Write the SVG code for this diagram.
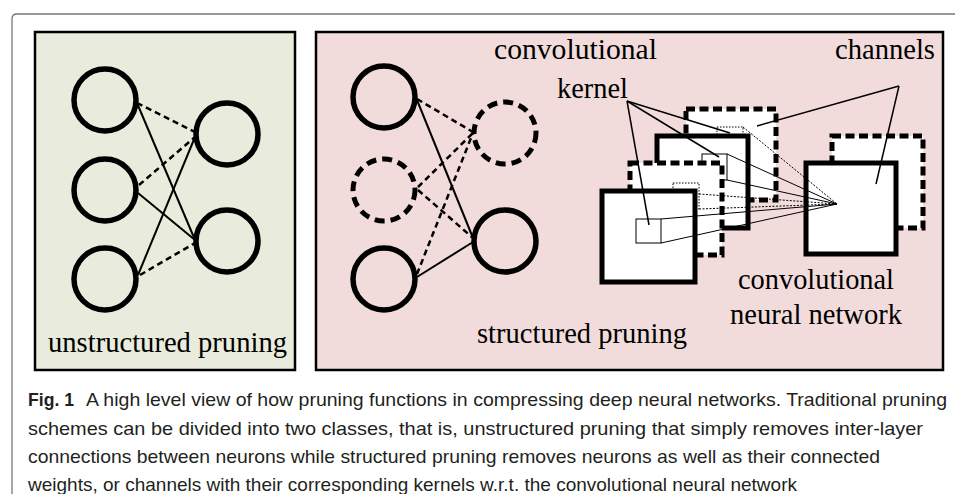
<svg xmlns="http://www.w3.org/2000/svg" width="955" height="494" viewBox="0 0 955 494">
<style>
.panel{stroke:#000;stroke-width:2.5}
.neuron{fill:none;stroke:#000;stroke-width:5.5}
.pruned{fill:none;stroke:#000;stroke-width:5;stroke-dasharray:10,6}
.w{stroke:#000;stroke-width:2;fill:none}
.wd{stroke:#000;stroke-width:2.5;fill:none;stroke-dasharray:6,4}
.lbl{font-family:"Liberation Serif","Times New Roman",serif;font-size:28.5px;fill:#000}
.ch{fill:#fff;stroke:#000;stroke-width:5}
.chd{fill:#fff;stroke:#000;stroke-width:5;stroke-dasharray:9,4.5}
.k{fill:#fff;stroke:#000;stroke-width:1}
.kd{fill:#fff;stroke:#000;stroke-width:1;stroke-dasharray:1.5,1.5}
.c{stroke:#000;stroke-width:1.5;fill:none}
.t{stroke:#000;stroke-width:1;fill:none}
.td{stroke:#000;stroke-width:1;fill:none;stroke-dasharray:2,1.5}
.cap{font-family:"Liberation Sans",Arial,sans-serif;font-size:19px;fill:#231f20}
</style>
<path d="M12 494 V19 Q12 14 17 14 H955" fill="none" stroke="#777" stroke-width="1.3"/>
<g id="panel-unstructured">
<rect class="panel" x="35" y="32" width="260" height="338" fill="#e9ecdc"/>
<text class="lbl" x="48" y="352" textLength="239" lengthAdjust="spacingAndGlyphs">unstructured pruning</text>
</g>
<g id="panel-structured">
<rect class="panel" x="316" y="32" width="627" height="338" fill="#f2dcdb"/>
<text class="lbl" x="477" y="343" textLength="210" lengthAdjust="spacingAndGlyphs">structured pruning</text>
</g>
<g id="connectors">
<line class="wd" x1="137" y1="103" x2="195" y2="132"/>
<line class="w" x1="137" y1="103" x2="195" y2="240"/>
<line class="wd" x1="139" y1="185" x2="195" y2="137"/>
<line class="w" x1="138" y1="193" x2="195" y2="240"/>
<line class="w" x1="138" y1="275" x2="195" y2="137"/>
<line class="wd" x1="140" y1="275" x2="195" y2="243"/>
<line class="wd" x1="417" y1="99" x2="473" y2="132"/>
<line class="w" x1="417" y1="100" x2="473" y2="238"/>
<line class="wd" x1="418" y1="187" x2="473" y2="133"/>
<line class="wd" x1="418" y1="190" x2="473" y2="238"/>
<line class="wd" x1="417" y1="274" x2="473" y2="133"/>
<line class="w" x1="417" y1="277" x2="473" y2="242"/>
</g>
<g id="u-in1"><circle class="neuron" cx="105" cy="100" r="31"/></g>
<g id="u-in2"><circle class="neuron" cx="105" cy="190" r="31"/></g>
<g id="u-in3"><circle class="neuron" cx="105" cy="279" r="31"/></g>
<g id="u-out1"><circle class="neuron" cx="227" cy="134" r="31"/></g>
<g id="u-out2"><circle class="neuron" cx="227" cy="241" r="31"/></g>
<g id="s-in1"><circle class="neuron" cx="384" cy="97" r="31"/></g>
<g id="s-in2"><circle class="pruned" cx="384" cy="190" r="31"/></g>
<g id="s-in3"><circle class="neuron" cx="384" cy="279" r="31"/></g>
<g id="s-out1"><circle class="pruned" cx="505" cy="133" r="31"/></g>
<g id="s-out2"><circle class="neuron" cx="505" cy="241" r="31"/></g>
<g id="cnn">
<rect class="chd" x="686" y="109" width="90" height="91"/>
<rect class="kd" x="717" y="127" width="26" height="26"/>
<rect class="ch" x="657" y="136" width="91" height="92"/>
<rect class="k" x="702" y="154" width="25" height="26"/>
<rect class="chd" x="630" y="163" width="92" height="92"/>
<rect class="kd" x="673" y="183" width="26" height="26"/>
<rect class="ch" x="602" y="191" width="93" height="91"/>
<rect class="k" x="636" y="219" width="25" height="24"/>
<rect class="chd" x="832" y="136" width="91" height="92"/>
<rect class="ch" x="806" y="163" width="90" height="91"/>
</g>
<g id="cnn-links">
<line class="td" x1="743" y1="127" x2="837" y2="204"/>
<line class="t" x1="727" y1="154" x2="837" y2="204"/>
<line class="t" x1="727" y1="180" x2="837" y2="204"/>
<line class="td" x1="699" y1="194" x2="837" y2="204"/>
<line class="td" x1="699" y1="209" x2="837" y2="204"/>
<line class="t" x1="661" y1="219" x2="837" y2="204"/>
<line class="t" x1="661" y1="243" x2="837" y2="204"/>
<line class="c" x1="627" y1="101" x2="649" y2="225"/>
<line class="c" x1="627" y1="101" x2="730" y2="133"/>
<line class="c" x1="627" y1="101" x2="719" y2="157"/>
<line class="c" x1="899" y1="86" x2="757" y2="126"/>
<line class="c" x1="899" y1="86" x2="876" y2="184"/>
</g>
<g id="labels">
<text class="lbl" x="494" y="59" textLength="163" lengthAdjust="spacingAndGlyphs">convolutional</text>
<text class="lbl" x="557" y="98" textLength="71" lengthAdjust="spacingAndGlyphs">kernel</text>
<text class="lbl" x="835" y="59" textLength="100" lengthAdjust="spacingAndGlyphs">channels</text>
<text class="lbl" x="738" y="289" textLength="156" lengthAdjust="spacingAndGlyphs">convolutional</text>
<text class="lbl" x="730" y="324" textLength="172" lengthAdjust="spacingAndGlyphs">neural network</text>
</g>
<g id="caption">
<text class="cap" x="28" y="406" font-weight="bold" textLength="46" lengthAdjust="spacingAndGlyphs">Fig. 1</text>
<text class="cap" x="86" y="406" textLength="861" lengthAdjust="spacingAndGlyphs">A high level view of how pruning functions in compressing deep neural networks. Traditional pruning</text>
<text class="cap" x="28" y="434.5" textLength="895" lengthAdjust="spacingAndGlyphs">schemes can be divided into two classes, that is, unstructured pruning that simply removes inter-layer</text>
<text class="cap" x="28" y="463" textLength="852" lengthAdjust="spacingAndGlyphs">connections between neurons while structured pruning removes neurons as well as their connected</text>
<text class="cap" x="28" y="491" textLength="769" lengthAdjust="spacingAndGlyphs">weights, or channels with their corresponding kernels w.r.t. the convolutional neural network</text>
</g>
</svg>
